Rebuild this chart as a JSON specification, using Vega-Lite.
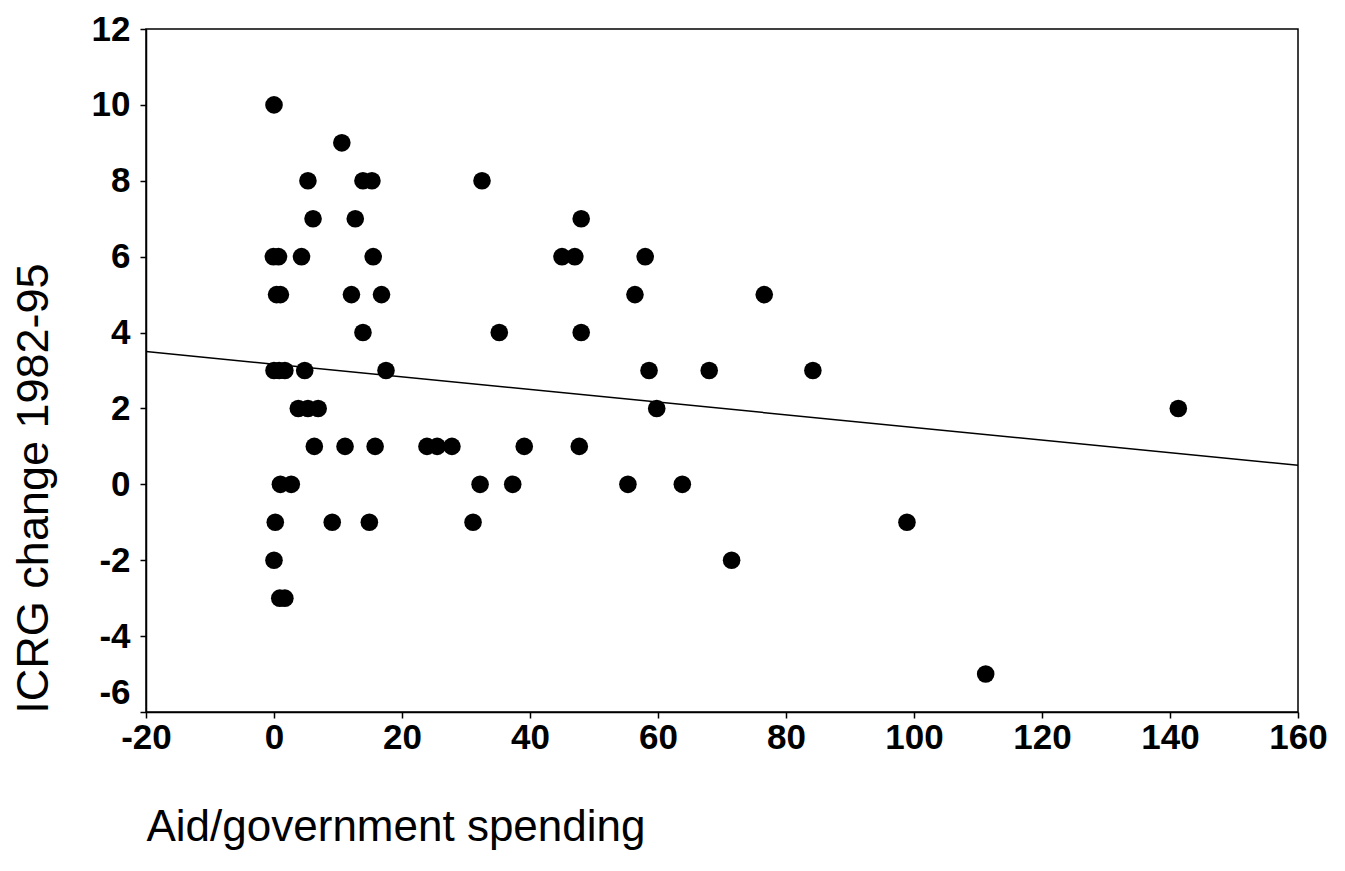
{
  "$schema": "https://vega.github.io/schema/vega-lite/v6.json",
  "width": 1152,
  "height": 683,
  "autosize": "none",
  "padding": {"left": 146, "top": 29, "right": 47, "bottom": 159},
  "background": "white",
  "config": {
    "font": "Liberation Sans",
    "view": {"stroke": "black", "strokeWidth": 1.5},
    "axis": {
      "grid": false,
      "domainColor": "black",
      "domainWidth": 1.5,
      "tickColor": "black",
      "tickWidth": 1.5,
      "tickSize": 6,
      "labelColor": "black",
      "labelFont": "Liberation Sans",
      "labelFontSize": 35,
      "labelFontWeight": "bold",
      "titleColor": "black",
      "titleFont": "Liberation Sans",
      "titleFontWeight": "normal",
      "labelOverlap": false,
      "labelFlush": false,
      "labelExpr": "toString(datum.value)"
    }
  },
  "datasets": {
    "countries": [
      {"aid": 0.0, "icrg": 10},
      {"aid": 10.6, "icrg": 9},
      {"aid": 5.3, "icrg": 8},
      {"aid": 13.9, "icrg": 8},
      {"aid": 15.3, "icrg": 8},
      {"aid": 32.5, "icrg": 8},
      {"aid": 6.1, "icrg": 7},
      {"aid": 12.7, "icrg": 7},
      {"aid": 48.0, "icrg": 7},
      {"aid": -0.1, "icrg": 6},
      {"aid": 0.7, "icrg": 6},
      {"aid": 4.3, "icrg": 6},
      {"aid": 15.5, "icrg": 6},
      {"aid": 45.0, "icrg": 6},
      {"aid": 47.0, "icrg": 6},
      {"aid": 58.0, "icrg": 6},
      {"aid": 0.4, "icrg": 5},
      {"aid": 1.0, "icrg": 5},
      {"aid": 12.1, "icrg": 5},
      {"aid": 16.8, "icrg": 5},
      {"aid": 56.4, "icrg": 5},
      {"aid": 76.6, "icrg": 5},
      {"aid": 13.9, "icrg": 4},
      {"aid": 35.2, "icrg": 4},
      {"aid": 48.0, "icrg": 4},
      {"aid": 0.0, "icrg": 3},
      {"aid": 0.8, "icrg": 3},
      {"aid": 1.7, "icrg": 3},
      {"aid": 4.8, "icrg": 3},
      {"aid": 17.5, "icrg": 3},
      {"aid": 58.6, "icrg": 3},
      {"aid": 68.0, "icrg": 3},
      {"aid": 84.2, "icrg": 3},
      {"aid": 3.8, "icrg": 2},
      {"aid": 5.3, "icrg": 2},
      {"aid": 6.9, "icrg": 2},
      {"aid": 59.8, "icrg": 2},
      {"aid": 141.3, "icrg": 2},
      {"aid": 6.3, "icrg": 1},
      {"aid": 11.1, "icrg": 1},
      {"aid": 15.8, "icrg": 1},
      {"aid": 23.9, "icrg": 1},
      {"aid": 25.5, "icrg": 1},
      {"aid": 27.8, "icrg": 1},
      {"aid": 39.1, "icrg": 1},
      {"aid": 47.7, "icrg": 1},
      {"aid": 1.0, "icrg": 0},
      {"aid": 2.7, "icrg": 0},
      {"aid": 32.2, "icrg": 0},
      {"aid": 37.3, "icrg": 0},
      {"aid": 55.3, "icrg": 0},
      {"aid": 63.8, "icrg": 0},
      {"aid": 0.2, "icrg": -1},
      {"aid": 9.1, "icrg": -1},
      {"aid": 14.9, "icrg": -1},
      {"aid": 31.1, "icrg": -1},
      {"aid": 98.9, "icrg": -1},
      {"aid": 0.0, "icrg": -2},
      {"aid": 71.5, "icrg": -2},
      {"aid": 0.9, "icrg": -3},
      {"aid": 1.7, "icrg": -3},
      {"aid": 111.2, "icrg": -5}
    ],
    "fit": [
      {"aid": -20, "icrg": 3.5},
      {"aid": 160, "icrg": 0.5}
    ]
  },
  "encoding": {
    "x": {
      "field": "aid",
      "type": "quantitative",
      "scale": {"domain": [-20, 160], "nice": false, "zero": false},
      "axis": {
        "title": "Aid/government spending",
        "values": [-20, 0, 20, 40, 60, 80, 100, 120, 140, 160],
        "labelPadding": 2,
        "titleFontSize": 44,
        "titleAnchor": "start",
        "titleAlign": "left",
        "titleBaseline": "alphabetic",
        "titleX": 0,
        "titleY": 128
      }
    },
    "y": {
      "field": "icrg",
      "type": "quantitative",
      "scale": {"domain": [-6, 12], "nice": false, "zero": false},
      "axis": {
        "title": "ICRG change 1982-95",
        "values": [-6, -4, -2, 0, 2, 4, 6, 8, 10, 12],
        "labelPadding": 10,
        "labelOffset": {"condition": {"test": "datum.value === -6", "value": -20}, "value": 0},
        "titleFontSize": 45,
        "titleAngle": -90,
        "titleAlign": "center",
        "titleBaseline": "alphabetic",
        "titleX": -99,
        "titleY": 459
      }
    }
  },
  "layer": [
    {
      "data": {"name": "fit"},
      "mark": {"type": "line", "color": "black", "strokeWidth": 1.5}
    },
    {
      "data": {"name": "countries"},
      "mark": {"type": "circle", "color": "black", "opacity": 1, "size": 310}
    }
  ]
}
